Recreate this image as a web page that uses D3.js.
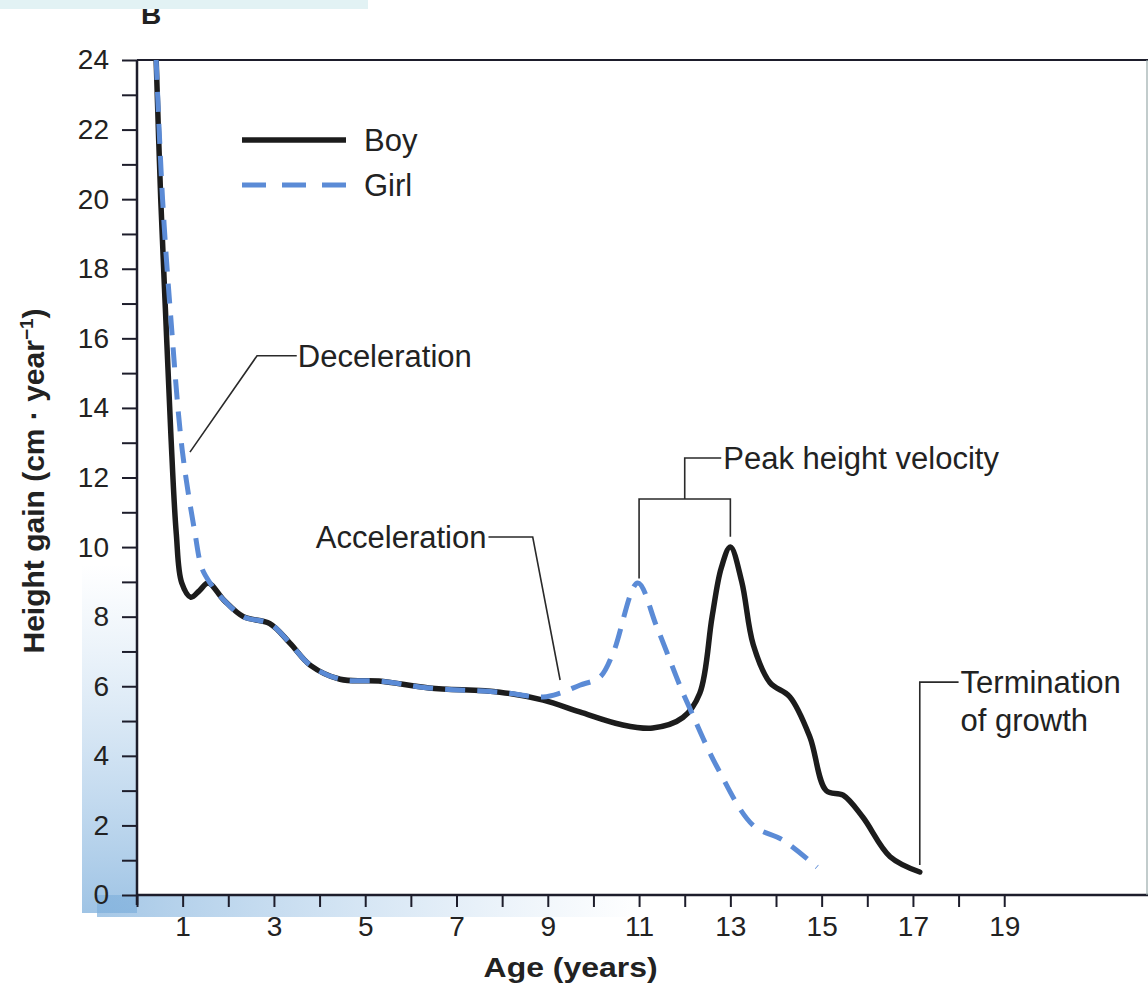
<!DOCTYPE html>
<html>
<head>
<meta charset="utf-8">
<script src="https://cdn.jsdelivr.net/npm/d3@7"></script>
<style>
    body { margin: 0; background: #fff; }
    svg { display: block; font-family: "Liberation Sans", Arial, sans-serif; }
</style>
</head>
<body>
<svg width="1148" height="983"></svg>
<script>
// values (age in years, height gain in cm/year)
var boyAge  = [0.42, 0.52, 0.63, 0.74, 0.86, 0.98, 1.18, 1.37, 1.56, 1.9, 2.33, 2.91, 3.35, 3.8, 4.45, 5.3, 6.4, 7.95, 8.9, 9.7, 10.6, 11.3, 11.96, 12.33, 12.6, 12.8, 13.0, 13.25, 13.5, 13.87, 14.3, 14.74, 15.1, 15.47, 15.9, 16.5, 17.15];
var boyGain = [24, 20, 16.6, 13.3, 10.4, 8.97, 8.56, 8.75, 8.97, 8.48, 8.0, 7.8, 7.24, 6.6, 6.2, 6.15, 5.95, 5.83, 5.6, 5.26, 4.9, 4.8, 5.1, 5.8, 8.0, 9.4, 10.0, 9.0, 7.2, 6.1, 5.7, 4.55, 3.0, 2.87, 2.24, 1.1, 0.66];

var girlAge  = [0.42, 0.56, 0.74, 0.99, 1.27, 1.42, 1.6, 1.9, 2.33, 2.91, 3.35, 3.8, 4.45, 5.3, 6.4, 7.95, 8.9, 9.27, 9.7, 10.14, 10.43, 10.97, 11.39, 11.9, 12.1, 12.7, 13.5, 14.15, 14.9];
var girlGain = [24, 20, 16.6, 12.8, 10.4, 9.4, 8.97, 8.48, 8.0, 7.8, 7.24, 6.6, 6.2, 6.15, 5.95, 5.83, 5.69, 5.8, 6.03, 6.26, 6.95, 8.97, 7.7, 6.0, 5.4, 3.7, 2.0, 1.58, 0.8];

var xTicks = d3.range(0, 20);
var xLabels = [1, 3, 5, 7, 9, 11, 13, 15, 17, 19];
var yTicks = d3.range(0, 25);
var yLabels = [0, 2, 4, 6, 8, 10, 12, 14, 16, 18, 20, 22, 24];

var seriesNames = ["Boy", "Girl"];

var svg = d3.select('svg');

var x = d3.scaleLinear().domain([0, 22.15]).range([137, 1148]);
var y = d3.scaleLinear().domain([0, 24]).range([895, 60]);

var tickFont = 28;
var textFont = 31;

// scan shading near the bottom-left corner
var defs = svg.append('defs');
var gv = defs.append('linearGradient').attr('id', 'shadeV')
    .attr('x1', 0).attr('y1', 0).attr('x2', 0).attr('y2', 1);
gv.append('stop').attr('offset', '0%').attr('stop-color', '#9cc3e6').attr('stop-opacity', 0);
gv.append('stop').attr('offset', '100%').attr('stop-color', '#7fb0dc').attr('stop-opacity', 0.75);
var gh = defs.append('linearGradient').attr('id', 'shadeH')
    .attr('x1', 0).attr('y1', 0).attr('x2', 1).attr('y2', 0);
gh.append('stop').attr('offset', '0%').attr('stop-color', '#7fb0dc').attr('stop-opacity', 0.7);
gh.append('stop').attr('offset', '100%').attr('stop-color', '#9cc3e6').attr('stop-opacity', 0);

svg.append('rect')
    .attr('x', x(0) - 55).attr('y', y(9.5))
    .attr('width', 55).attr('height', y(0) - y(9.5) + 18)
    .style('fill', 'url(#shadeV)');
svg.append('rect')
    .attr('x', x(0) - 40).attr('y', y(0))
    .attr('width', x(12) - x(0)).attr('height', 22)
    .style('fill', 'url(#shadeH)');

defs.append('clipPath').attr('id', 'plotClip')
    .append('rect')
    .attr('x', x(0)).attr('y', y(24))
    .attr('width', x(22.15) - x(0)).attr('height', y(0) - y(24));

// panel letter, half hidden under the band
svg.append('text')
    .attr('x', 141).attr('y', 24)
    .style('font-size', '28px').style('font-weight', 'bold').style('fill', '#222')
    .text('B');
svg.append('rect')
    .attr('x', 0).attr('y', 0).attr('width', 368).attr('height', 9)
    .style('fill', '#e2f2f4');

// axes
var xAxis = d3.axisBottom(x)
    .tickValues(xTicks)
    .tickSize(12)
    .tickPadding(9)
    .tickFormat(function (d) { return xLabels.indexOf(d) >= 0 ? d : ''; });

var yAxis = d3.axisLeft(y)
    .tickValues(yTicks)
    .tickSize(15)
    .tickPadding(13)
    .tickFormat(function (d) { return yLabels.indexOf(d) >= 0 ? d : ''; });

var gx = svg.append('g')
    .attr('transform', 'translate(0,' + y(0) + ')')
    .call(xAxis);
var gy = svg.append('g')
    .attr('transform', 'translate(' + x(0) + ',0)')
    .call(yAxis);

[gx, gy].forEach(function (g) {
    g.select('.domain').remove();
    g.selectAll('.tick line').style('stroke', '#1d1d2b').style('stroke-width', 2);
    g.selectAll('.tick text')
        .style('font-size', tickFont + 'px')
        .style('font-family', '"Liberation Sans", Arial, sans-serif')
        .style('fill', '#222');
});

// frame: left, bottom, top, right
var frame = svg.append('g').style('stroke', '#1d1d2b').style('fill', 'none');
frame.append('line')
    .attr('x1', x(0)).attr('x2', x(0))
    .attr('y1', y(24)).attr('y2', y(0) + 10)
    .style('stroke-width', 2.5);
frame.append('line')
    .attr('x1', x(0)).attr('x2', x(22.15))
    .attr('y1', y(0)).attr('y2', y(0))
    .style('stroke-width', 2.5);
frame.append('line')
    .attr('x1', x(0)).attr('x2', x(22.15))
    .attr('y1', y(24)).attr('y2', y(24))
    .style('stroke-width', 2);
frame.append('line')
    .attr('x1', x(22.15) - 1).attr('x2', x(22.15) - 1)
    .attr('y1', y(24)).attr('y2', y(0))
    .style('stroke-width', 1.2).style('stroke', '#9aa');

// axis titles
svg.append('text')
    .attr('x', x(9.5)).attr('y', 977)
    .attr('text-anchor', 'middle')
    .attr('textLength', 174)
    .attr('lengthAdjust', 'spacingAndGlyphs')
    .style('font-size', '27px').style('font-weight', 'bold').style('fill', '#222')
    .text('Age (years)');

var yTitle = svg.append('text')
    .attr('transform', 'translate(44,' + y(11.9) + ') rotate(-90)')
    .attr('text-anchor', 'middle')
    .style('font-size', '30px').style('font-weight', 'bold').style('fill', '#222');
yTitle.append('tspan').text('Height gain (cm \u00b7 year');
yTitle.append('tspan').attr('dy', -11).style('font-size', '19px').text('\u22121');
yTitle.append('tspan').attr('dy', 11).text(')');

// curves
var line = d3.line()
    .x(function (d) { return x(d[0]); })
    .y(function (d) { return y(d[1]); })
    .curve(d3.curveCatmullRom.alpha(0.5));

var boy = d3.zip(boyAge, boyGain);
var girl = d3.zip(girlAge, girlGain);

var plot = svg.append('g').attr('clip-path', 'url(#plotClip)');

plot.append('path')
    .datum(boy)
    .attr('d', line)
    .style('fill', 'none')
    .style('stroke', '#1c1c1c')
    .style('stroke-width', 5.5)
    .style('stroke-linecap', 'round');

plot.append('path')
    .datum(girl)
    .attr('d', line)
    .style('fill', 'none')
    .style('stroke', '#5b8bd6')
    .style('stroke-width', 5)
    .style('stroke-dasharray', '20,12');

// legend
var legend = svg.append('g');
legend.append('line')
    .attr('x1', 242).attr('x2', 346).attr('y1', 140).attr('y2', 140)
    .style('stroke', '#1c1c1c').style('stroke-width', 5.5);
legend.append('line')
    .attr('x1', 242).attr('x2', 346).attr('y1', 185).attr('y2', 185)
    .style('stroke', '#5b8bd6').style('stroke-width', 5)
    .style('stroke-dasharray', '24,16');
legend.selectAll('text')
    .data(seriesNames)
    .enter()
    .append('text')
    .attr('x', 364)
    .attr('y', function (d, i) { return 140 + i * 45; })
    .attr('dy', '0.35em')
    .style('font-size', textFont + 'px')
    .style('fill', '#222')
    .text(function (d) { return d; });

// annotations (anchor points in data units)
var ann = svg.append('g')
    .style('stroke', '#2a2a2a').style('stroke-width', 1.6).style('fill', 'none');

function poly(pts) {
    ann.append('path').attr('d', d3.line()(pts.map(function (p) { return [x(p[0]), y(p[1])]; })));
}

function label(px, py, anchor, txt) {
    svg.append('text')
        .attr('x', px).attr('y', py)
        .attr('dy', '0.35em')
        .attr('text-anchor', anchor)
        .style('font-size', textFont + 'px')
        .style('fill', '#222')
        .text(txt);
}

// Deceleration
poly([[1.16, 12.73], [2.63, 15.5], [3.5, 15.5]]);
label(x(3.5) + 1, y(15.5), 'start', 'Deceleration');

// Acceleration
poly([[9.27, 6.18], [8.67, 10.29], [7.7, 10.29]]);
label(x(7.7) - 2, y(10.29), 'end', 'Acceleration');

// Peak height velocity bracket
poly([[11, 9.1], [11, 11.38], [13, 11.38], [13, 10.3]]);
poly([[12, 11.38], [12, 12.56], [12.8, 12.56]]);
label(x(12.8) + 2, y(12.56), 'start', 'Peak height velocity');

// Termination of growth
poly([[17.15, 0.86], [17.15, 6.12], [18, 6.12]]);
label(x(18) + 2, y(6.12), 'start', 'Termination');
label(x(18) + 2, y(6.12) + 38, 'start', 'of growth');
</script>
</body>
</html>
